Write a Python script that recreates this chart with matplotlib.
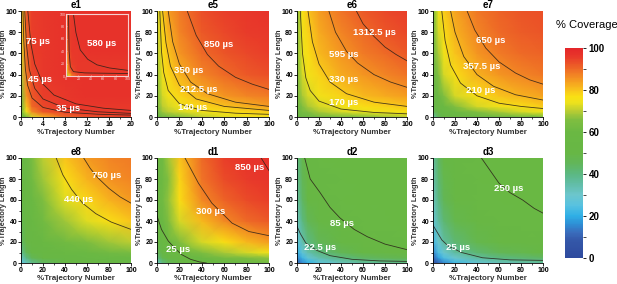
import numpy as np
import matplotlib
matplotlib.use("Agg")
import matplotlib.pyplot as plt
from matplotlib.colors import LinearSegmentedColormap
from matplotlib.ticker import MultipleLocator
import matplotlib.cm as cm
from matplotlib.colors import Normalize

plt.rcParams['font.family'] = ['Liberation Sans', 'DejaVu Sans']

# ---------------- data ----------------
# grid nodes (x: %Trajectory Number, y: %Trajectory Length)
y_nodes = [0, 5, 10, 20, 40, 60, 80, 100]
x_nodes_full = [0, 5, 10, 20, 40, 60, 80, 100]
x_nodes_e1 = [0, 1, 2, 4, 8, 12, 16, 20]

# coverage (%) rows = y_nodes (bottom -> top), cols = x nodes
e1_cov = [
    [55, 62, 72, 82, 90, 93, 94, 95],
    [58, 74, 86, 92, 95, 96, 96, 96],
    [60, 80, 90, 94, 96, 96, 96, 96],
    [64, 85, 92, 95, 96, 97, 97, 97],
    [70, 88, 94, 96, 97, 97, 97, 97],
    [73, 90, 95, 96, 97, 97, 97, 97],
    [76, 91, 95, 96, 97, 97, 97, 97],
    [78, 92, 95, 96, 97, 97, 97, 97],
]
e1_inset_cov = [
    [60, 78, 88, 94, 96, 96, 96, 96],
    [70, 85, 92, 95, 96, 96, 96, 96],
    [75, 90, 94, 96, 96, 96, 96, 96],
    [78, 92, 95, 96, 96, 96, 96, 96],
    [85, 94, 96, 96, 97, 97, 97, 97],
    [88, 95, 96, 97, 97, 97, 97, 97],
    [90, 95, 96, 97, 97, 97, 97, 97],
    [90, 95, 96, 97, 97, 97, 97, 97],
]
e5_cov = [
    [58, 60, 62, 66, 70, 73, 75, 76],
    [60, 68, 70, 72, 75, 77, 78, 79],
    [62, 70, 72, 75, 78, 80, 82, 84],
    [64, 72, 75, 78, 82, 85, 87, 88],
    [67, 75, 78, 82, 87, 90, 92, 93],
    [69, 77, 80, 85, 90, 92.5, 94, 95],
    [71, 78, 82, 87, 92, 94, 95.5, 96],
    [72, 79, 84, 88, 93, 95, 96, 97],
]
e6_cov = [
    [58, 59, 60, 62, 64, 66, 68, 70],
    [59, 64, 66, 69, 72, 74, 75, 76.5],
    [60, 66, 69, 72, 75, 77, 78.5, 80],
    [61, 69, 72, 75, 78.5, 81, 82.5, 84],
    [63, 72, 75, 78.5, 82.5, 85, 87, 89],
    [64, 74, 77, 81, 85, 88, 90, 92],
    [65, 75, 78.5, 82.5, 87, 90, 92.5, 94],
    [66, 76.5, 80, 84, 89, 92, 94, 95],
]
e7_cov = [
    [35, 45, 50, 55, 58, 60, 61, 62],
    [45, 52, 56, 60, 66, 69, 72, 74],
    [50, 56, 60, 66, 72, 75, 77, 79],
    [53, 60, 66, 72, 77, 80, 82, 83.5],
    [55, 66, 72, 77, 82, 85, 87, 88.5],
    [56, 69, 75, 80, 85, 88, 90, 91],
    [57, 72, 77, 82, 87, 90, 91.5, 92.5],
    [58, 74, 79, 83.5, 88.5, 91, 92.5, 93],
]
e8_cov = [
    [25, 32, 38, 44, 50, 52, 54, 55],
    [32, 40, 46, 52, 55, 56, 57, 58],
    [38, 46, 51, 55, 58, 60, 62, 64],
    [44, 52, 55, 58, 62, 65, 68, 70],
    [48, 55, 58, 62, 68, 73, 77, 80],
    [50, 56, 60, 65, 73, 78, 82, 84.5],
    [52, 57, 62, 68, 77, 82, 85.5, 87],
    [53, 58, 64, 70, 80, 84.5, 87, 88],
]
d1_cov = [
    [30, 40, 45, 50, 56, 58, 60, 62],
    [40, 48, 52, 56, 60, 63, 65, 67],
    [45, 52, 56, 60, 65, 69, 72, 75],
    [50, 56, 60, 65, 72, 77, 81, 84],
    [55, 60, 65, 72, 81, 86.5, 90, 92],
    [57, 62, 67, 77, 86.5, 91, 93.5, 95],
    [58, 61, 66, 78, 89, 93.5, 95.5, 96.5],
    [58, 62, 68, 80, 90, 95, 96.5, 97],
]
d2_cov = [
    [10, 15, 20, 26, 32, 36, 38, 40],
    [15, 22, 28, 34, 40, 44, 46, 48],
    [20, 28, 34, 40, 46, 50, 52, 53],
    [26, 34, 40, 46, 51, 54, 55, 56],
    [32, 40, 46, 51, 55, 57, 57, 58],
    [36, 44, 50, 54, 57, 58, 58, 58],
    [38, 46, 52, 55, 57, 58, 58, 58],
    [40, 48, 53, 56, 58, 58, 58, 58],
]
d3_cov = [
    [5, 10, 15, 22, 28, 32, 34, 36],
    [10, 18, 24, 30, 36, 40, 42, 44],
    [15, 24, 30, 36, 42, 46, 48, 50],
    [22, 30, 36, 42, 48, 52, 54, 55],
    [28, 36, 42, 48, 53, 56, 57, 57],
    [32, 40, 46, 52, 56, 57, 58, 58],
    [34, 42, 48, 54, 57, 58, 58, 58],
    [36, 44, 50, 55, 57, 58, 58, 58],
]

# iso-time contour lines: (x points, y points)
e1_lines = {
    "35": ([0.36, 0.5, 0.8, 1.2, 2, 4, 8, 14, 20], [100, 72, 45, 30, 18, 9, 4.5, 2.6, 1.8]),
    "45": ([0.68, 1, 1.5, 2.5, 4, 8, 14, 20], [100, 68, 45, 27, 17, 8.5, 4.9, 3.4]),
    "75": ([1.24, 1.8, 2.5, 4, 6, 10, 15, 20], [100, 69, 50, 31, 20.7, 12.4, 8.3, 6.2]),
}
e1_inset_lines = {
    "580": ([12, 16, 23, 35, 50, 70, 100], [100, 70, 42, 27, 18, 13, 9]),
    "75": ([4, 5, 7, 12, 30, 60, 100], [100, 40, 15, 7, 5, 4.5, 4]),
}
e5_lines = {
    "140": ([2.5, 4, 6, 10, 20, 40, 70, 100], [100, 62, 42, 25, 12.5, 6.2, 3.6, 2.5]),
    "212.5": ([5, 8, 12, 20, 35, 60, 100], [100, 70, 48, 30, 17, 10, 6.2]),
    "350": ([10, 14, 20, 30, 45, 70, 100], [100, 71, 50, 33, 22, 14, 10]),
    "850": ([27, 35, 45, 55, 70, 85, 100], [100, 77, 59, 48, 37.5, 31, 26]),
}
e6_lines = {
    "170": ([3, 5, 8, 12, 20, 40, 70, 100], [100, 60, 37, 25, 15, 7.5, 4.3, 3]),
    "330": ([10, 14, 20, 30, 45, 70, 100], [100, 71, 50, 33, 22, 14, 10]),
    "595": ([29, 35, 45, 55, 70, 85, 100], [100, 80, 62, 51, 40, 33, 28]),
    "1312.5": ([54, 60, 70, 80, 90, 100], [100, 88, 76, 66, 59, 53]),
}
e7_lines = {
    "210": ([8, 11, 16, 25, 40, 60, 80, 100], [100, 72, 49, 32, 20, 13, 10, 8]),
    "357.5": ([16, 20, 28, 40, 55, 75, 100], [100, 80, 57, 40, 29, 21, 16]),
    "650": ([31, 38, 48, 60, 75, 88, 100], [100, 82, 65, 52, 41.5, 35, 31]),
}
e8_lines = {
    "440": ([32, 38, 46, 56, 68, 82, 100], [100, 84, 70, 57, 47, 39, 32]),
    "750": ([57, 63, 70, 80, 90, 100], [100, 90, 81, 71, 63, 57]),
}
d1_lines = {
    "25": ([0, 4, 10, 16, 22, 30, 38, 44], [45, 32, 21, 14, 8, 3.5, 1, 0]),
    "300": ([25, 37, 49, 67, 82, 100], [100, 76, 57, 38, 30, 26]),
    "850": ([93, 100], [100, 88]),
}
d2_lines = {
    "22.5": ([0, 3, 8, 18, 30, 50, 75, 100], [35, 28, 19, 12, 7, 3.5, 2, 1.5]),
    "85": ([7, 12, 21, 30, 39, 52, 64, 80, 100], [100, 80, 67, 53, 43, 32, 25, 18, 12.7]),
}
d3_lines = {
    "25": ([0, 8, 14, 26, 45, 70, 100], [36, 22, 16, 10, 5, 3, 2.5]),
    "250": ([44, 52, 60, 70, 81.5, 92, 100], [100, 88, 76, 67, 60, 52, 47.5]),
}

panel_titles = ["e1", "e5", "e6", "e7", "e8", "d1", "d2", "d3"]
colorbar_ticks = [0, 20, 40, 60, 80, 100]

# ---------------- style ----------------
cmap = LinearSegmentedColormap.from_list("cov", [
    (0.00, "#2E4A9E"), (0.08, "#3457A8"), (0.12, "#3A6CBC"), (0.16, "#2E8FD5"),
    (0.20, "#2FAFE6"), (0.25, "#58C2E0"), (0.30, "#6CC6CC"), (0.35, "#62BDA8"),
    (0.40, "#5BB882"), (0.45, "#62B65A"), (0.50, "#67B745"), (0.60, "#6AB843"),
    (0.66, "#80BE40"), (0.70, "#B8CC33"), (0.74, "#EDE21C"), (0.77, "#F9E014"),
    (0.80, "#F8C41C"), (0.84, "#F5A020"), (0.88, "#F17D25"), (0.92, "#EC5A27"),
    (0.96, "#E8382A"), (1.00, "#E4262A"),
])

W, H = 617, 284
fig = plt.figure(figsize=(W / 100, H / 100), dpi=100)


def rect(l, t, r, b):
    return [l / W, 1 - b / H, (r - l) / W, (b - t) / H]


cols = [(21, 131), (157, 269), (297, 407), (433, 543)]
rows = [(11, 117), (158, 263)]

panels = [
    ("e1", x_nodes_e1, e1_cov, e1_lines, 20),
    ("e5", x_nodes_full, e5_cov, e5_lines, 100),
    ("e6", x_nodes_full, e6_cov, e6_lines, 100),
    ("e7", x_nodes_full, e7_cov, e7_lines, 100),
    ("e8", x_nodes_full, e8_cov, e8_lines, 100),
    ("d1", x_nodes_full, d1_cov, d1_lines, 100),
    ("d2", x_nodes_full, d2_cov, d2_lines, 100),
    ("d3", x_nodes_full, d3_cov, d3_lines, 100),
]

label_pos = {
    "e1": [("75 µs", 3.1, 71), ("45 µs", 3.4, 35), ("35 µs", 8.5, 8)],
    "e5": [("850 µs", 55, 68), ("350 µs", 28, 43.5), ("212.5 µs", 37, 26), ("140 µs", 32, 9)],
    "e6": [("1312.5 µs", 70, 80), ("595 µs", 42.5, 59), ("330 µs", 42.5, 35.6), ("170 µs", 42.5, 13.6)],
    "e7": [("650 µs", 52, 72), ("357.5 µs", 44.6, 48), ("210 µs", 43, 24.6)],
    "e8": [("750 µs", 78, 83), ("440 µs", 52, 60)],
    "d1": [("850 µs", 82.5, 90.5), ("300 µs", 48, 49), ("25 µs", 19, 12.7)],
    "d2": [("85 µs", 41, 38), ("22.5 µs", 21, 15)],
    "d3": [("250 µs", 68.6, 71.4), ("25 µs", 23, 15)],
}

tick_fs = 5.0
for i, (name, xn, cov, lines, xmax) in enumerate(panels):
    c = cols[i % 4]
    r = rows[i // 4]
    ax = fig.add_axes(rect(c[0], r[0], c[1], r[1]))
    ax.pcolormesh(xn, y_nodes, np.array(cov, dtype=float), shading='gouraud',
                  cmap=cmap, vmin=0, vmax=100)
    for key, (lx, ly) in lines.items():
        ax.plot(lx, ly, color="#2A2018", lw=0.6, alpha=0.85)
    for txt, tx, ty in label_pos[name]:
        ax.text(tx, ty, txt, color="white", fontsize=6.8, fontweight="bold",
                ha="center", va="center")
    ax.set_xlim(0, xmax)
    ax.set_ylim(0, 100)
    if xmax == 20:
        ax.set_xticks([0, 4, 8, 12, 16, 20])
        ax.xaxis.set_minor_locator(MultipleLocator(2))
    else:
        ax.set_xticks([0, 20, 40, 60, 80, 100])
        ax.xaxis.set_minor_locator(MultipleLocator(10))
    ax.set_yticks([0, 20, 40, 60, 80, 100])
    ax.yaxis.set_minor_locator(MultipleLocator(10))
    ax.tick_params(which='major', length=2.2, width=0.6, pad=0.6, labelsize=tick_fs)
    ax.tick_params(which='minor', length=1.2, width=0.5)
    for lab in ax.get_xticklabels() + ax.get_yticklabels():
        lab.set_fontweight("bold")
    for s in ["top", "right"]:
        ax.spines[s].set_visible(False)
    for s in ["left", "bottom"]:
        ax.spines[s].set_linewidth(0.6)
    ax.set_xlabel("%Trajectory Number", fontsize=5.8, fontweight="bold",
                  color="#333333", labelpad=0.5)
    ax.set_ylabel("%Trajectory Length", fontsize=5.3, fontweight="bold",
                  color="#333333")
    width_px = c[1] - c[0]
    ax.yaxis.set_label_coords(-13.8 / width_px, 0.5)
    ax.set_title(name, fontsize=7, fontweight="bold", pad=2)

    if name == "e1":
        ia = fig.add_axes(rect(66, 14, 128, 76))
        ia.pcolormesh(x_nodes_full, y_nodes, np.array(e1_inset_cov, dtype=float),
                      shading='gouraud', cmap=cmap, vmin=0, vmax=100)
        for key, (lx, ly) in e1_inset_lines.items():
            ia.plot(lx, ly, color="#2A2018", lw=0.6, alpha=0.85)
        ia.text(57, 52, "580 µs", color="white", fontsize=6.8, fontweight="bold",
                ha="center", va="center")
        ia.set_xlim(0, 100)
        ia.set_ylim(0, 100)
        ia.set_xticks([0, 20, 40, 60, 80, 100])
        ia.set_yticks([0, 20, 40, 60, 80, 100])
        ia.tick_params(length=1, width=0.4, pad=0.5, labelsize=2.6,
                       colors="#F6D6D6", direction="in")
        for s in ia.spines.values():
            s.set_color("#F6D0D0")
            s.set_linewidth(0.8)

# colorbar
cax = fig.add_axes(rect(565, 48, 583, 258))
sm = cm.ScalarMappable(norm=Normalize(0, 100), cmap=cmap)
cb = fig.colorbar(sm, cax=cax, ticks=colorbar_ticks)
cb.outline.set_visible(False)
cax.yaxis.set_minor_locator(MultipleLocator(10))
cax.tick_params(which='major', length=2.5, width=0.6, labelsize=7, pad=1.5)
cax.tick_params(which='minor', length=2.0, width=0.5)
for lab in cax.get_yticklabels():
    lab.set_fontweight("bold")
fig.text(587 / W, 1 - 25 / H, "% Coverage", fontsize=8, ha="center", va="center")

fig.savefig("out.png", dpi=100)
